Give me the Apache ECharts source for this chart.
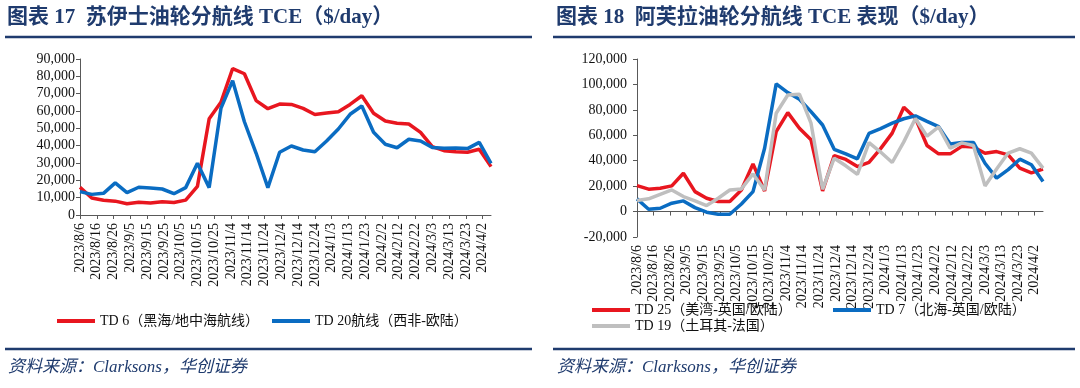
<!DOCTYPE html>
<html>
<head>
<meta charset="utf-8">
<script src="https://cdn.jsdelivr.net/npm/echarts@6/dist/echarts.min.js"></script>
<style>
html,body{margin:0;padding:0;background:#fff;}
#c{width:1080px;height:388px;}
</style>
</head>
<body>
<div id="c"></div>
<script>
// weekly observation dates (both charts)
const dates = ['2023/8/6','2023/8/13','2023/8/20','2023/8/27','2023/9/3','2023/9/10','2023/9/17','2023/9/24','2023/10/1','2023/10/8','2023/10/15','2023/10/22','2023/10/29','2023/11/5','2023/11/12','2023/11/19','2023/11/26','2023/12/3','2023/12/10','2023/12/17','2023/12/24','2023/12/31','2024/1/7','2024/1/14','2024/1/21','2024/1/28','2024/2/4','2024/2/11','2024/2/18','2024/2/25','2024/3/3','2024/3/10','2024/3/17','2024/3/24','2024/3/31','2024/4/7'];
// x-axis tick labels (every 10 days)
const tickLabels = ['2023/8/6','2023/8/16','2023/8/26','2023/9/5','2023/9/15','2023/9/25','2023/10/5','2023/10/15','2023/10/25','2023/11/4','2023/11/14','2023/11/24','2023/12/4','2023/12/14','2023/12/24','2024/1/3','2024/1/13','2024/1/23','2024/2/2','2024/2/12','2024/2/22','2024/3/3','2024/3/13','2024/3/23','2024/4/2'];
const axisEnd = '2024/4/7';

// Chart 17: Suezmax
const td6  = [16000,9800,8500,8000,6500,7400,6900,7700,7200,8600,16500,55500,65000,84500,81500,66000,61300,64000,63800,61500,58000,58800,59600,63800,68800,58700,54200,52900,52500,47700,39400,37100,36500,36200,37900,27900];
const td20 = [13500,11900,12500,18500,12900,16000,15600,15000,12300,15800,29800,15800,61500,77500,53800,35600,15800,36200,39800,37500,36500,42700,49600,58100,62900,47700,40800,38800,43700,42700,39000,38500,38700,38300,41900,29800];

// Chart 18: Aframax
const td25 = [20400,17600,18300,20200,30100,15700,10500,7900,7900,17000,37500,16200,62900,77800,65500,56400,16200,44000,41000,35400,38700,49500,61700,82000,73500,52000,45400,45400,51300,50800,45800,47200,44600,34200,30500,33500];
const td7  = [10000,1800,2600,6600,8400,3100,-500,-2100,-2100,6000,15700,49800,100400,93600,88300,78600,68100,49000,45300,41500,61500,65300,69500,73000,75300,71000,66800,53100,54400,54400,38000,26300,33000,41200,36800,23600];
const td19 = [8700,10000,13600,17000,11800,8400,4700,10500,17000,17800,29600,17000,77300,91700,92300,69500,17500,42000,36000,29300,54300,46800,38600,54800,73200,59300,66600,49800,54000,52000,20200,33500,46000,49400,46000,34200];

const names17 = ['TD 6（黑海/地中海航线）','TD 20航线（西非-欧陆）'];
const names18 = ['TD 25（美湾-英国/欧陆）','TD 7（北海-英国/欧陆）','TD 19（土耳其-法国）'];

function dayNum(s){const p=s.split('/').map(Number);return Date.UTC(p[0],p[1]-1,p[2])/86400000;}
const base = dayNum(dates[0]);
const off = s => dayNum(s)-base;
const tickOffsets = tickLabels.map(off);
const labelMap = {}; tickLabels.forEach(t=>{labelMap[off(t)]=t;});
const xMax = off(axisEnd);
const pairs = arr => arr.map((v,i)=>[off(dates[i]),v]);

const SERIF = "'Liberation Serif','Times New Roman','Noto Sans CJK SC',serif";
const NAVY = '#1F3B6E';
const AX = '#595959';
const RED = '#E8161F', BLUE = '#0A6CC2', GRAY = '#BFBFBF';

function xAxisCfg(gi){
  return {type:'value',gridIndex:gi,min:0,max:xMax,
    axisLine:{show:true,onZero:true,lineStyle:{color:AX,width:1}},
    axisTick:{show:true,customValues:tickOffsets,length:4,lineStyle:{color:AX}},
    axisLabel:{customValues:tickOffsets,rotate:90,margin:8,fontFamily:SERIF,fontSize:14,color:'#111',
      formatter:v=>labelMap[Math.round(v)]||''},
    splitLine:{show:false}};
}
function yAxisCfg(gi,min,max,iv,margin){
  return {type:'value',gridIndex:gi,min:min,max:max,interval:iv,
    axisLine:{show:true,lineStyle:{color:AX,width:1}},
    axisTick:{show:true,length:4,lineStyle:{color:AX}},
    axisLabel:{margin:margin,fontFamily:SERIF,fontSize:14,color:'#111',
      formatter:v=>v.toLocaleString('en-US')},
    splitLine:{show:false}};
}
function line(name,data,color,xi){
  return {name:name,type:'line',xAxisIndex:xi,yAxisIndex:xi,data:pairs(data),symbol:'none',
    lineStyle:{color:color,width:3.5},itemStyle:{color:color},animation:false};
}
function legend(name,left,cy){
  return {data:[name],left:left,top:cy-8,icon:'rect',itemWidth:38,itemHeight:4,padding:0,
    textStyle:{fontFamily:SERIF,fontSize:14,color:'#111'}};
}

const chart = echarts.init(document.getElementById('c'));
chart.setOption({
  backgroundColor:'#fff',
  animation:false,
  title:[
    {text:'图表 17  苏伊士油轮分航线 TCE（$/day）',left:7,top:7,padding:0,
     textStyle:{fontFamily:SERIF,fontSize:21,fontWeight:'bold',color:NAVY}},
    {text:'图表 18  阿芙拉油轮分航线 TCE 表现（$/day）',left:556,top:7,padding:0,
     textStyle:{fontFamily:SERIF,fontSize:21,fontWeight:'bold',color:NAVY}},
    {text:'资料来源：Clarksons，华创证券',left:8,top:359,padding:0,
     textStyle:{fontFamily:SERIF,fontSize:17,fontStyle:'italic',fontWeight:'normal',color:NAVY}},
    {text:'资料来源：Clarksons，华创证券',left:557,top:359,padding:0,
     textStyle:{fontFamily:SERIF,fontSize:17,fontStyle:'italic',fontWeight:'normal',color:NAVY}}
  ],
  graphic:[
    {type:'line',shape:{x1:5,y1:37,x2:532,y2:37},style:{stroke:NAVY,lineWidth:2.5}},
    {type:'line',shape:{x1:553,y1:37,x2:1075,y2:37},style:{stroke:NAVY,lineWidth:2.5}},
    {type:'line',shape:{x1:5,y1:349,x2:532,y2:349},style:{stroke:NAVY,lineWidth:2.5}},
    {type:'line',shape:{x1:553,y1:349,x2:1075,y2:349},style:{stroke:NAVY,lineWidth:2.5}}
  ],
  grid:[
    {left:80,top:59,width:411,height:156},
    {left:637,top:59,width:406,height:178}
  ],
  xAxis:[xAxisCfg(0),xAxisCfg(1)],
  yAxis:[yAxisCfg(0,0,90000,10000,5),yAxisCfg(1,-20000,120000,20000,10)],
  legend:[
    legend(names17[0],57,322),
    legend(names17[1],272,322),
    legend(names18[0],592,311),
    legend(names18[1],833,311),
    legend(names18[2],592,327)
  ],
  series:[
    line(names17[0],td6,RED,0),
    line(names17[1],td20,BLUE,0),
    line(names18[0],td25,RED,1),
    line(names18[1],td7,BLUE,1),
    line(names18[2],td19,GRAY,1)
  ]
});
</script>
</body>
</html>
